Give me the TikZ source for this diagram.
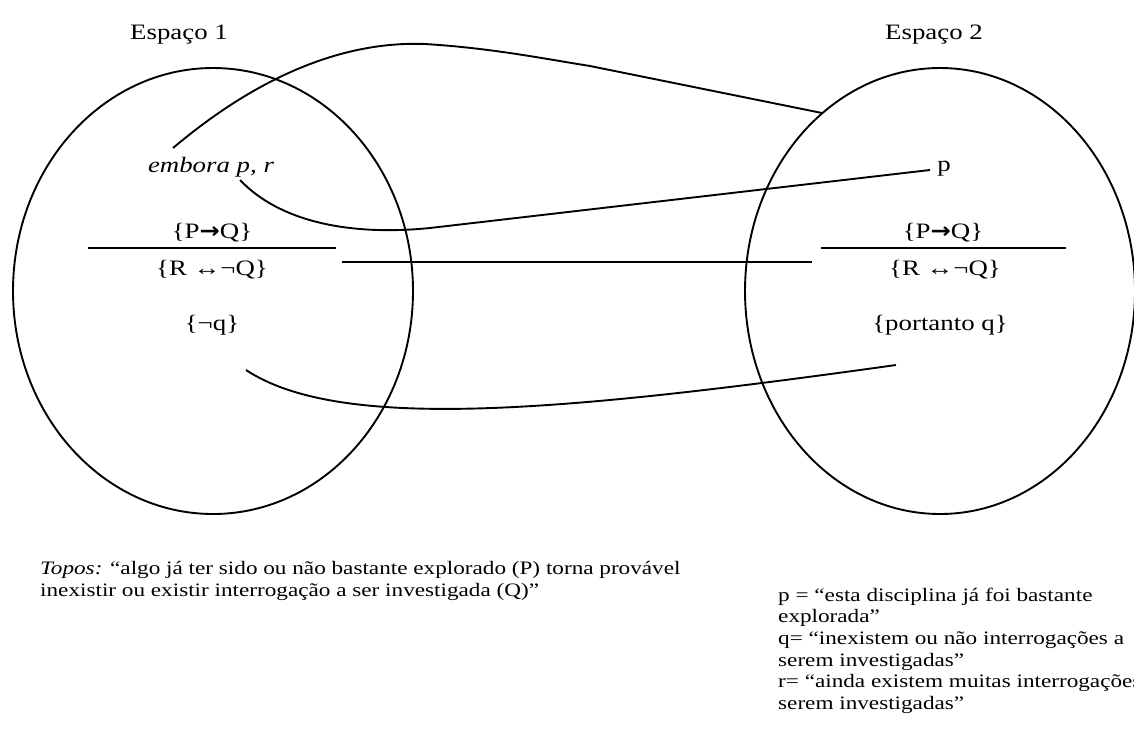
\documentclass[tikz,border=0pt]{standalone}
\usepackage{fontspec}
\setmainfont{Liberation Serif}[FakeStretch=1.22]
\newfontfamily\setafont{DejaVu Sans}[FakeStretch=1.1]
\usepackage{tikz}
\newcommand{\dgfont}{\fontsize{22}{26}\selectfont}
\newcommand{\keyfont}{\fontsize{19}{21.7}\selectfont}
\newcommand{\imp}{{\setafont\bfseries →}}
\tikzset{
  espaco/.style={line width=1.9pt},
  ligacao/.style={line width=1.9pt},
  barra/.style={line width=1.9pt},
  rot/.style={font=\dgfont, inner sep=0pt, anchor=base},
  chave/.style={font=\keyfont, inner sep=0pt, anchor=base west},
}

\begin{document}
\begin{tikzpicture}[x=1pt,y=-1pt]
\useasboundingbox (0,0) rectangle (1134,737);
% os dois espacos mentais
\draw[espaco] (213,291) ellipse [x radius=200, y radius=223];
\draw[espaco] (940,291) ellipse [x radius=195, y radius=223];
\node[rot] (t1) at (179,39) {Espaço 1};
\node[rot] (t2) at (934,39) {Espaço 2};
% espaco 1
\node[rot] (emb) at (211,172) {\itshape embora p, r};
\node[rot] (pq1) at (212,238) {\{P\imp Q\}};
\node[rot] (rq1) at (212,275) {\{R ↔¬Q\}};
\node[rot] (nq) at (212,330) {\{¬q\}};
\draw[barra] (88,248) -- (336,248);
% espaco 2
\node[rot] (pp) at (944,171) {p};
\node[rot] (pq2) at (943,238) {\{P\imp Q\}};
\node[rot] (rq2) at (945,275) {\{R ↔¬Q\}};
\node[rot] (port) at (940,330) {\{portanto q\}};
\draw[barra] (821,248) -- (1066,248);
% ligacoes
\coordinate (a1) at (173,148); \coordinate (a2) at (822,113);
\coordinate (b1) at (240,180); \coordinate (b2) at (930,170);
\coordinate (f1) at (342,262); \coordinate (f2) at (812,262);
\coordinate (c1) at (246,370); \coordinate (c2) at (896,365);
\draw[ligacao] (a1) .. controls (230,100) and (320,40) .. (425,44)
  .. controls (490,48) and (540,58) .. (590,66) -- (a2);
\draw[ligacao] (b1) .. controls (280,222) and (350,236) .. (430,228) -- (b2);
\draw[ligacao] (f1) -- (f2);
\draw[ligacao] (c1) .. controls (340,432) and (560,412) .. (c2);
% legendas
\node[chave] (n1) at (40,574) {{\itshape Topos:} “algo já ter sido ou não bastante explorado (P) torna provável};
\node[chave] (n2) at (40,596) {inexistir ou existir interrogação a ser investigada (Q)”};
\foreach \i/\linha in {0/{p = “esta disciplina já foi bastante}, 1/{explorada”},
  2/{q= “inexistem ou não interrogações a}, 3/{serem investigadas”},
  4/{r= “ainda existem muitas interrogações a}, 5/{serem investigadas”}}
  \node[chave] (k\i) at (778,{601+21.7*\i}) {\linha};
\end{tikzpicture}
\end{document}
